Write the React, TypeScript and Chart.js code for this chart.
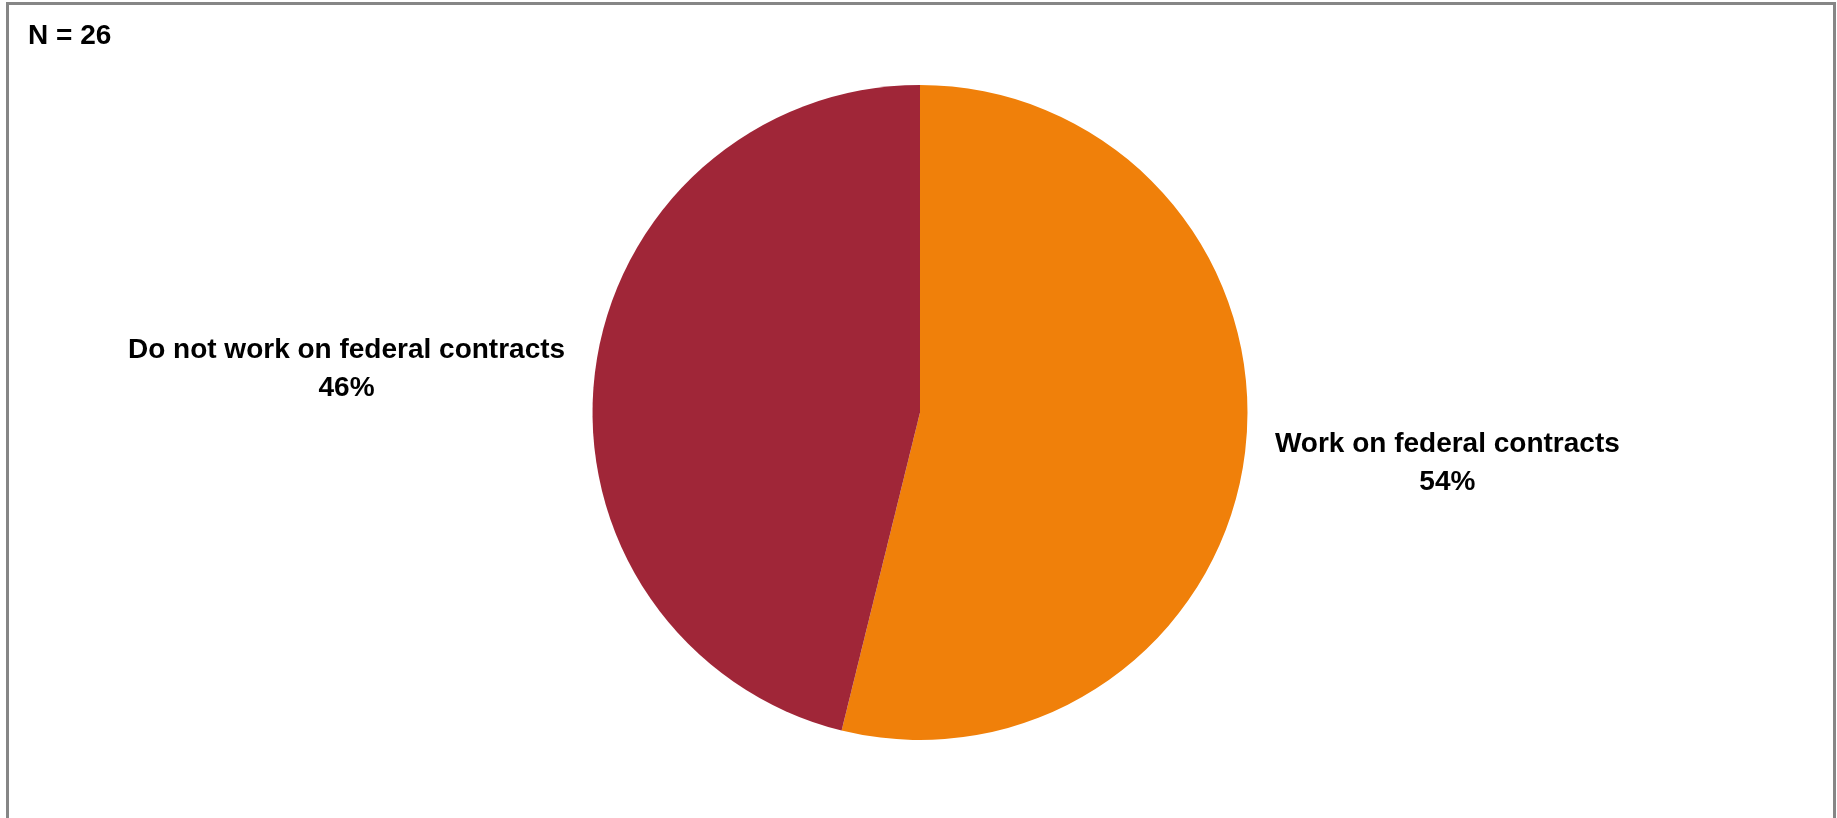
import React, { useEffect, useRef } from "react";
import { Chart, registerables } from "chart.js";

Chart.register(...registerables);

const categories: string[] = ["Work on federal contracts", "Do not work on federal contracts"];
const counts: number[] = [14, 12];
const colors: string[] = ["#F0800A", "#A02638"];
const noteText = "N = 26";

const FONT = '"Liberation Sans Narrow", "Liberation Sans", Arial, sans-serif';

const labelPlugin = {
  id: "outsideLabels",
  afterDraw(chart: any) {
    const ctx = chart.ctx as CanvasRenderingContext2D;
    const meta = chart.getDatasetMeta(0);
    const data = chart.data.datasets[0].data as number[];
    const total = data.reduce((a, b) => a + b, 0);
    ctx.save();
    ctx.fillStyle = "#000";
    ctx.font = `bold 28px ${FONT}`;
    ctx.textBaseline = "middle";
    meta.data.forEach((arc: any, i: number) => {
      const p = arc.getProps(["x", "y", "startAngle", "endAngle", "outerRadius"], true);
      const mid = (p.startAngle + p.endAngle) / 2;
      const d = p.outerRadius + 30;
      const ax = p.x + Math.cos(mid) * d;
      const ay = p.y + Math.sin(mid) * d;
      const lines = [String(chart.data.labels[i]), `${Math.round((data[i] / total) * 100)}%`];
      const w = Math.max(...lines.map((l) => ctx.measureText(l).width));
      const right = Math.cos(mid) >= 0;
      const cx = right ? ax + w / 2 : ax - w / 2;
      ctx.textAlign = "center";
      lines.forEach((l, k) => {
        ctx.fillText(l, cx, ay - 19 + k * 38 + (right ? 8 : 0));
      });
    });
    ctx.textAlign = "left";
    ctx.fillText(noteText, 28, 36);
    ctx.restore();
  },
};

export default function App() {
  const ref = useRef<HTMLCanvasElement | null>(null);
  useEffect(() => {
    if (!ref.current) return;
    const chart = new Chart(ref.current, {
      type: "pie",
      data: {
        labels: categories,
        datasets: [
          {
            data: counts,
            backgroundColor: colors,
            borderWidth: 0,
            radius: 327.5,
          } as any,
        ],
      },
      options: {
        animation: false,
        responsive: false,
        maintainAspectRatio: false,
        layout: { padding: { left: 3, right: 0, top: 7, bottom: 0 } },
        plugins: {
          legend: { display: false },
          tooltip: { enabled: false },
        },
      },
      plugins: [labelPlugin],
    });
    return () => chart.destroy();
  }, []);
  return (
    <div style={{ position: "fixed", left: 0, top: 0, width: 1837, height: 818, overflow: "hidden", background: "#fff" }}>
      <div
        style={{
          position: "absolute",
          left: 6,
          top: 2,
          width: 1824,
          height: 900,
          border: "3px solid #868686",
          boxSizing: "content-box",
        }}
      />
      <canvas ref={ref} width={1837} height={818} style={{ position: "absolute", left: 0, top: 0 }} />
    </div>
  );
}
